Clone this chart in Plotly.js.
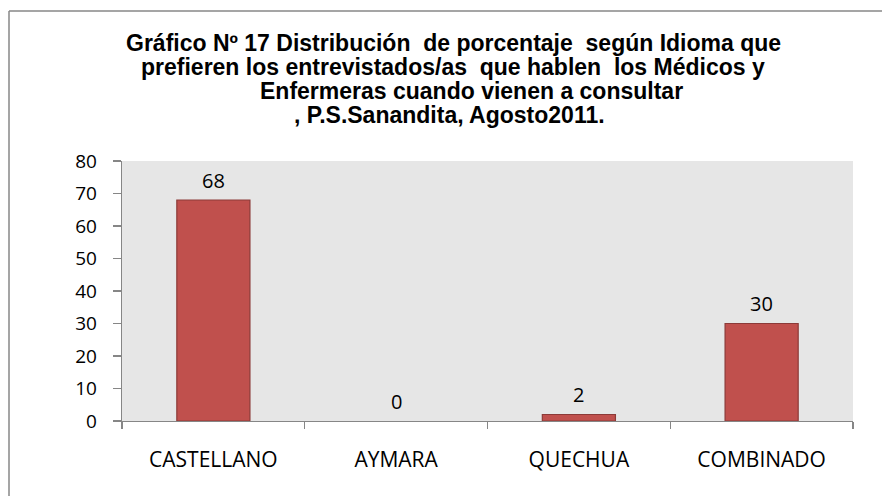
<!DOCTYPE html>
<html>
<head>
<meta charset="utf-8">
<script src="https://cdn.plot.ly/plotly-3.0.1.min.js"></script>
<style>html,body{margin:0;padding:0;background:#fff;}#chart{width:882px;height:496px;}</style>
</head>
<body>
<div id="chart"></div>
<script>
var categories = ["CASTELLANO", "AYMARA", "QUECHUA", "COMBINADO"];
var values = [68, 0, 2, 30];
var valueLabels = ["68", "0", "2", "30"];
var titleLines = [
  "Gráfico Nº 17 Distribución&nbsp; de porcentaje&nbsp; según Idioma que",
  "prefieren los entrevistados/as&nbsp; que hablen&nbsp; los Médicos y",
  "Enfermeras cuando vienen a consultar",
  ", P.S.Sanandita, Agosto2011."
];
var yTicks = [0, 10, 20, 30, 40, 50, 60, 70, 80];

var W = 882, H = 496, ML = 122, MR = 29, MT = 161, MB = 75;
var plotH = H - MT - MB, plotW = W - ML - MR;
function py(p) { return (H - MB - p) / plotH; }
function px(p) { return (p - ML) / plotW; }

var titleY = [43, 67, 91, 115];
var titleX = [453, 453, 471, 449];

var annotations = [];
titleLines.forEach(function (t, i) {
  annotations.push({
    text: t, xref: 'paper', yref: 'paper', x: px(titleX[i]), y: py(titleY[i]),
    xanchor: 'center', yanchor: 'middle', showarrow: false,
    font: {family: 'Liberation Sans, Arial, sans-serif', size: 23, color: '#000', weight: 'bold'}
  });
});
categories.forEach(function (c, i) {
  annotations.push({
    text: valueLabels[i], x: c, y: values[i], xref: 'x', yref: 'y',
    xanchor: 'center', yanchor: 'middle', yshift: 20, showarrow: false,
    font: {family: 'Open Sans, sans-serif', size: 20, color: '#000'}
  });
});

var trace = {
  type: 'bar', x: categories, y: values,
  marker: {color: '#c0504d', line: {color: '#8c3a38', width: values.map(function (v) { return v > 0 ? 1.2 : 0; })}},
  width: 0.4, hoverinfo: 'none'
};

var layout = {
  width: W, height: H,
  margin: {l: ML, r: MR, t: MT, b: MB, pad: 0},
  paper_bgcolor: '#ffffff', plot_bgcolor: '#e6e6e6',
  showlegend: false,
  xaxis: {
    type: 'category', showline: true, linecolor: '#868686', linewidth: 1.3,
    ticks: 'outside', ticklen: 7, tickcolor: '#868686', tickwidth: 1.3,
    tickson: 'boundaries', showgrid: false, zeroline: false,
    ticklabelstandoff: 19,
    tickfont: {family: 'Open Sans, sans-serif', size: 21, color: '#000'}
  },
  yaxis: {
    range: [0, 80], tickvals: yTicks, ticktext: yTicks.map(String),
    showline: true, linecolor: '#868686', linewidth: 1.3,
    ticks: 'outside', ticklen: 8, tickcolor: '#868686', tickwidth: 1.3,
    showgrid: false, zeroline: false, ticklabelstandoff: 12,
    tickfont: {family: 'Open Sans, sans-serif', size: 19, color: '#000'}
  },
  annotations: annotations,
  shapes: [
    {type: 'line', xref: 'paper', yref: 'paper', x0: px(9), x1: px(882), y0: py(11), y1: py(11), line: {color: '#878787', width: 1.5}},
    {type: 'line', xref: 'paper', yref: 'paper', x0: px(9), x1: px(9), y0: py(11), y1: py(496), line: {color: '#878787', width: 1.5}}
  ]
};

Plotly.newPlot('chart', [trace], layout, {displayModeBar: false, staticPlot: true});
</script>
</body>
</html>
